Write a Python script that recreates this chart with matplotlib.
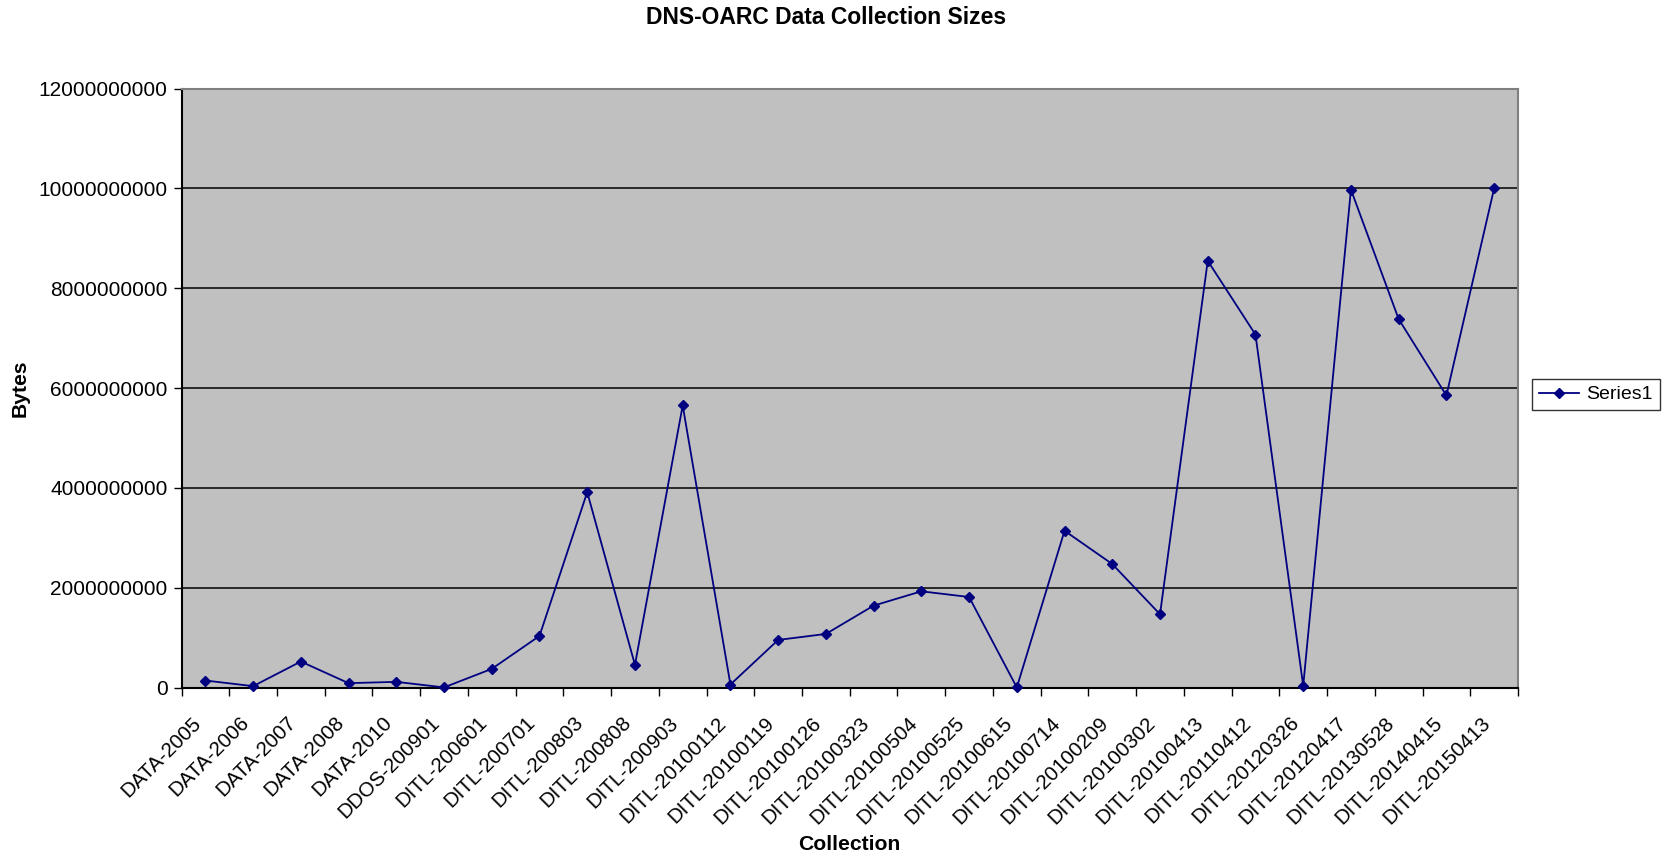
import matplotlib
matplotlib.use("Agg")
import matplotlib.pyplot as plt
from matplotlib.ticker import FixedLocator, FuncFormatter
from matplotlib.transforms import ScaledTranslation
import numpy as np

categories = ["DATA-2005", "DATA-2006", "DATA-2007", "DATA-2008", "DATA-2010",
              "DDOS-200901", "DITL-200601", "DITL-200701", "DITL-200803",
              "DITL-200808", "DITL-200903", "DITL-20100112", "DITL-20100119",
              "DITL-20100126", "DITL-20100323", "DITL-20100504", "DITL-20100525",
              "DITL-20100615", "DITL-20100714", "DITL-20100209", "DITL-20100302",
              "DITL-20100413", "DITL-20110412", "DITL-20120326", "DITL-20120417",
              "DITL-20130528", "DITL-20140415", "DITL-20150413"]
values = [1.40e8, 2.7e7, 5.20e8, 8.7e7, 1.13e8,
          2.0e6, 3.73e8, 1.033e9, 3.913e9,
          4.53e8, 5.65e9, 6.0e7, 9.53e8,
          1.073e9, 1.64e9, 1.927e9, 1.813e9,
          1.0e6, 3.14e9, 2.473e9, 1.467e9,
          8.548e9, 7.07e9, 3.3e7, 9.974e9,
          7.38e9, 5.85e9, 1.0e10]
series_name = "Series1"
yticks = [0, 2000000000, 4000000000, 6000000000, 8000000000, 10000000000, 12000000000]

plt.rcParams['font.family'] = ['Liberation Sans', 'DejaVu Sans']

W, H = 1664, 856
fig = plt.figure(figsize=(W / 100, H / 100), dpi=100)
fig.patch.set_facecolor('white')

x0, x1, y0, y1 = 181.5, 1518, 88.5, 687.5
ax = fig.add_axes([x0 / W, 1 - y1 / H, (x1 - x0) / W, (y1 - y0) / H])
ax.set_facecolor('#C0C0C0')

x = np.arange(len(categories))
ax.plot(x, values, color='#000080', linewidth=1.3, marker='D', markersize=5.5,
        markerfacecolor='#000080', markeredgecolor='#000080', label=series_name,
        zorder=3, clip_on=False)

ax.set_xlim(-0.5, len(categories) - 0.5)
ax.set_ylim(0, 12000000000)

ax.set_yticks(yticks)
ax.yaxis.set_major_formatter(FuncFormatter(lambda v, p: f"{int(round(v))}"))
ax.tick_params(axis='y', direction='out', length=6, width=1, color='black',
               labelsize=15, pad=4)
ax.yaxis.grid(True, color='black', linewidth=1.1)
ax.set_axisbelow(True)

ax.xaxis.set_major_locator(FixedLocator(x))
ax.xaxis.set_minor_locator(FixedLocator(np.arange(len(categories) + 1) - 0.5))
ax.set_xticklabels(categories, rotation=45, ha='right', va='top',
                   rotation_mode='anchor', fontsize=14.8)
ax.tick_params(axis='x', which='major', length=0, pad=18.5)
ax.tick_params(axis='x', which='minor', direction='out', length=6, width=1, color='black')
shift = ScaledTranslation(-14 / 100, 0, fig.dpi_scale_trans)
for lbl in ax.get_xticklabels():
    lbl.set_transform(lbl.get_transform() + shift)

for s in ['top', 'right']:
    ax.spines[s].set_color('#808080')
    ax.spines[s].set_linewidth(1.5)
for s in ['left', 'bottom']:
    ax.spines[s].set_color('black')
    ax.spines[s].set_linewidth(1.5)

fig.text(826 / W, 1 - 18 / H, "DNS-OARC Data Collection Sizes", ha='center', va='center',
         fontsize=16.5, fontweight='bold')
fig.text(849 / W, 1 - 845 / H, "Collection", ha='center', va='center',
         fontsize=15.2, fontweight='bold')
fig.text(20 / W, 1 - 388 / H, "Bytes", ha='center', va='center', rotation=90,
         fontsize=15.2, fontweight='bold')

leg = fig.legend(loc='center left', bbox_to_anchor=(1532 / W, 1 - 394.5 / H),
                 frameon=True, fancybox=False, edgecolor='black', fontsize=14,
                 handlelength=2.06, borderpad=0.36, borderaxespad=0, handletextpad=0.36)
leg.get_frame().set_linewidth(1.0)

fig.savefig("out.png", dpi=100)
